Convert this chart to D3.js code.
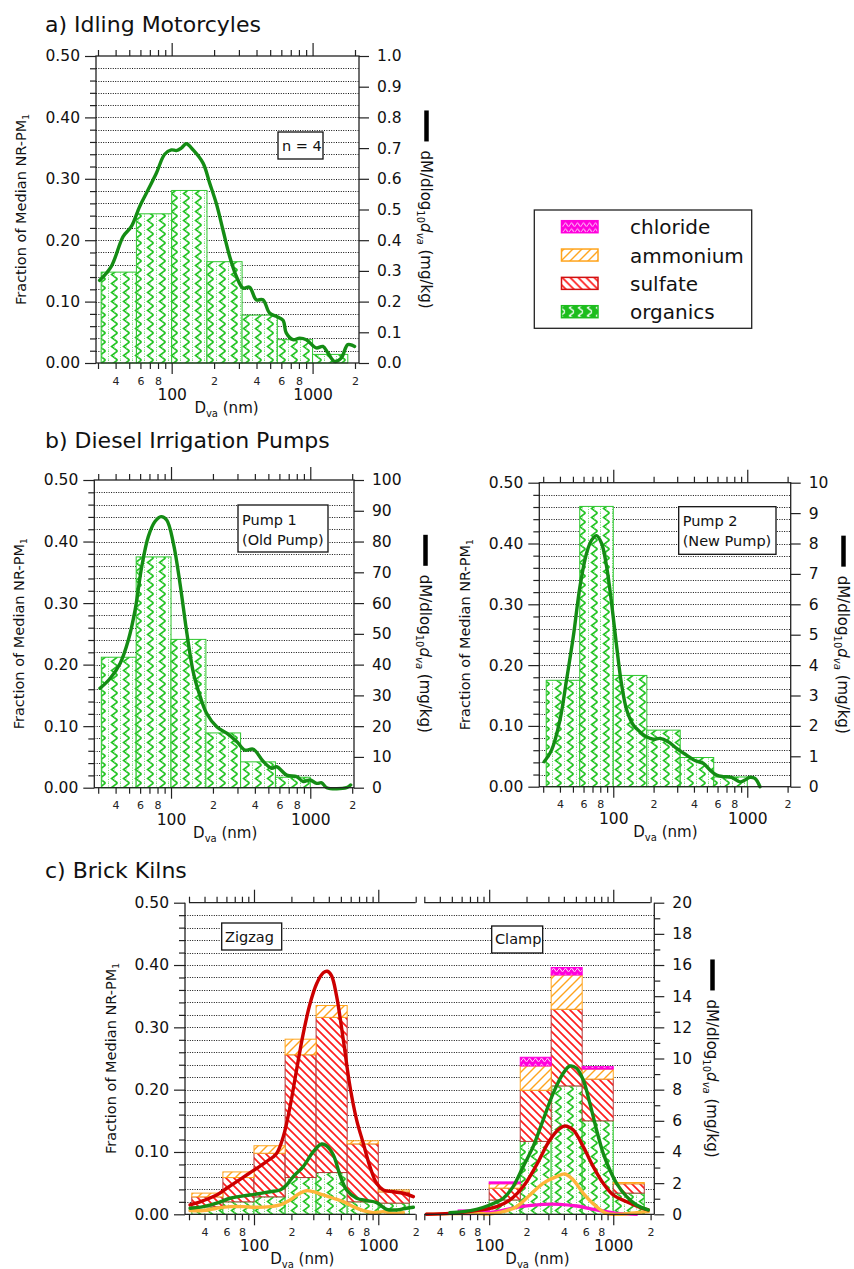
<!DOCTYPE html>
<html>
<head>
<meta charset="utf-8">
<script src="https://cdn.jsdelivr.net/npm/d3@7"></script>
<style>
body { margin: 0; background: #fff; }
svg { font-family: "DejaVu Sans", sans-serif; }
</style>
</head>
<body>
<svg id="chart" width="854" height="1269"></svg>
<script>
// ---- data ----
// size bin edges (nm), one decade split in four
const binEdges = [31.6, 56.2, 100, 178, 316, 562, 1000, 1778];
const xTickValues = [30, 40, 50, 60, 70, 80, 90, 100, 200, 300, 400, 500, 600, 700, 800, 900, 1000, 2000];
const xMinorLabelValues = [40, 60, 80, 200, 400, 600, 800, 2000];
const xMajorLabelValues = [100, 1000];
const species = ['organics', 'sulfate', 'ammonium', 'chloride'];
const legendLabels = ['chloride', 'ammonium', 'sulfate', 'organics'];

// a) idling motorcycles
const motoOrganics = [0.148, 0.243, 0.281, 0.165, 0.078, 0.038, 0.014];
const motoLine = [[30.8,0.269],[37.3,0.315],[45.2,0.412],[51.8,0.445],[59.3,0.51],[66.1,0.553],[77.8,0.618],[89.2,0.68],[99.5,0.694],[108,0.692],[117,0.70],[127,0.714],[142,0.694],[167,0.651],[186,0.586],[207,0.521],[231,0.434],[258,0.347],[288,0.282],[321,0.244],[357,0.247],[398,0.206],[444,0.206],[495,0.163],[552,0.152],[617,0.139],[650,0.098],[726,0.076],[809,0.081],[902,0.076],[1062,0.049],[1183,0.054],[1285,0.033],[1432,0.005],[1596,0.016],[1779,0.060],[1986,0.054]];

// b) pumps
const pump1Organics = [0.212, 0.375, 0.241, 0.089, 0.042, 0.017];
const pump1Line = [[30.9,32.3],[36.5,35.5],[43.1,40.4],[49.4,48.0],[55.2,57.7],[61.6,71.8],[68.7,81.6],[76.7,86.5],[84.8,88.1],[93.1,87.0],[104,79.4],[116,66.4],[130,50.2],[145,37.2],[162,29.6],[180,24.2],[213,19.8],[251,17.7],[296,15.0],[340,12.2],[390,12.5],[460,8.5],[528,6.3],[574,6.8],[677,4.1],[798,3.6],[891,2.0],[995,2.5],[1111,1.4],[1208,1.6],[1312,0],[1824,0],[1950,0.9]];
const pump2Organics = [0.175, 0.461, 0.183, 0.093, 0.048, 0.016];
const pump2Line = [[30.5,0.82],[34.7,1.21],[40.0,2.19],[44.8,3.51],[50.3,4.93],[56.4,6.58],[63.2,7.68],[68.9,8.11],[75.1,8.26],[81.9,8.0],[89.2,7.24],[97.2,6.03],[106,4.61],[115,3.40],[126,2.52],[141,2.03],[158,1.81],[177,1.64],[199,1.56],[223,1.59],[257,1.48],[297,1.26],[352,1.04],[407,0.86],[469,0.77],[526,0.55],[590,0.38],[662,0.33],[764,0.31],[881,0.16],[961,0.22],[1047,0.31],[1141,0.27],[1244,0]];

// c) brick kilns, stacked fractions per bin
const zigOrganics = [0.012, 0.020, 0.028, 0.059, 0.067, 0.020, 0.018];
const zigSulfate  = [0.016, 0.039, 0.070, 0.197, 0.249, 0.093, 0.018];
const zigAmmonium = [0.006, 0.009, 0.012, 0.025, 0.019, 0.005, 0.003];
const zigChloride = [0, 0, 0, 0, 0, 0, 0];
const clampOrganics = [0.001, 0.002, 0.023, 0.117, 0.206, 0.150, 0.034];
const clampSulfate  = [0, 0.001, 0.019, 0.082, 0.123, 0.067, 0.015];
const clampAmmonium = [0, 0.001, 0.007, 0.039, 0.055, 0.016, 0.002];
const clampChloride = [0, 0.003, 0.003, 0.014, 0.012, 0.004, 0];

const zigLineSulfate = [[30.6,0.6],[39.1,0.88],[50.1,1.24],[60.3,1.67],[72.6,2.1],[87.3,2.52],[105,2.95],[126,3.38],[152,3.91],[172,4.98],[195,6.91],[220,9.26],[249,11.6],[282,13.5],[319,14.8],[361,15.5],[389,15.6],[421,15.3],[462,14.0],[523,11.2],[592,8.2],[670,6.05],[757,4.56],[857,3.06],[970,1.99],[1097,1.56],[1321,1.45],[1589,1.35],[1914,1.13]];
const zigLineOrganics = [[30.6,0.39],[39.1,0.49],[50.1,0.71],[64.1,1.03],[82.1,1.18],[105,1.30],[135,1.45],[162,1.56],[183,1.88],[207,2.42],[249,3.06],[300,4.02],[350,4.51],[384,4.39],[435,3.81],[492,2.52],[556,1.56],[670,1.03],[806,0.88],[970,0.75],[1167,0.32],[1404,0.28],[1690,0.39],[1914,0.45]];
const zigLineAmmonium = [[30.6,0.24],[39.1,0.24],[50.1,0.39],[64.1,0.49],[82.1,0.49],[105,0.45],[135,0.49],[162,0.6],[195,0.92],[234,1.35],[265,1.52],[300,1.45],[361,1.24],[435,1.03],[523,0.81],[629,0.49],[757,0.24],[912,0.11],[1097,0.17],[1321,0.06],[1589,0.11]];
const clampLineOrganics = [[48.2,0.11],[61.7,0.17],[79.1,0.32],[101,0.6],[130,1.03],[156,1.78],[188,3.06],[226,4.34],[272,6.05],[328,7.76],[395,9.05],[447,9.52],[506,9.37],[573,8.62],[648,7.12],[734,5.41],[830,3.91],[940,2.84],[1064,1.99],[1282,1.13],[1543,0.6],[1914,0.28]];
const clampLineSulfate = [[31.2,0],[48.2,0.06],[79.1,0.24],[115,0.49],[147,0.92],[188,1.78],[241,3.17],[308,4.77],[371,5.52],[408,5.67],[476,5.41],[573,4.34],[690,3.06],[830,1.99],[1000,1.24],[1282,0.81],[1641,0.45],[1914,0.28]];
const clampLineAmmonium = [[31.2,0],[79.1,0.06],[101,0.02],[130,0.17],[166,0.49],[213,1.24],[272,1.99],[349,2.42],[408,2.59],[476,2.2],[573,1.35],[734,0.49],[883,0.06],[1132,0],[1543,0.11],[1914,0.17]];
const clampLineChloride = [[58.0,0.06],[79.1,0.06],[115,0.17],[177,0.49],[272,0.64],[371,0.64],[506,0.53],[734,0.28],[1064,0.06],[1543,0]];

// ---- styles ----
const COLORS = {
    organics: {bar: '#2ec62e', line: '#148c14'},
    sulfate: {bar: '#b53838', hatch: '#ff1e1e', line: '#cc0000'},
    ammonium: {bar: '#ffa41c', hatch: '#ffa41c', line: '#ffb43a'},
    chloride: {bar: '#ff00dd', line: '#ff10cc'}
};
const AXIS = '#222';

const svg = d3.select('#chart');
const defs = svg.append('defs');

// 填充图案
function pattern(id, w, h) {
    return defs.append('pattern').attr('id', id)
        .attr('patternUnits', 'userSpaceOnUse')
        .attr('width', w).attr('height', h);
}
let p = pattern('pOrg', 12, 9);
p.append('rect').attr('width', 12).attr('height', 9).attr('fill', '#fff');
p.append('path').attr('d', 'M9.5,0 L3.5,4.5 L9.5,9').attr('fill', 'none')
    .attr('stroke', '#22c422').attr('stroke-width', 1.6);
p.append('path').attr('d', 'M0.5,0 V9 M6.5,1 V8').attr('stroke', '#5fd45f')
    .attr('stroke-width', 0.9).attr('stroke-dasharray', '1,1.5');
p = pattern('pSul', 8, 8);
p.append('rect').attr('width', 8).attr('height', 8).attr('fill', '#fff');
p.append('path').attr('d', 'M0,0 L8,8 M-2,6 L2,10 M6,-2 L10,2')
    .attr('stroke', COLORS.sulfate.hatch).attr('stroke-width', 1.7);
p = pattern('pAmm', 9, 9);
p.append('rect').attr('width', 9).attr('height', 9).attr('fill', '#fff');
p.append('path').attr('d', 'M0,9 L9,0 M-2,2 L2,-2 M7,11 L11,7')
    .attr('stroke', COLORS.ammonium.hatch).attr('stroke-width', 1.4);
p = pattern('pChl', 6, 6);
p.append('rect').attr('width', 6).attr('height', 6).attr('fill', '#ff00dd');
p.append('path').attr('d', 'M0,4 Q1.5,0.5 3,4 T6,4').attr('fill', 'none')
    .attr('stroke', '#fff').attr('stroke-width', 0.9);
p = pattern('pOrgLeg', 9, 8);
p.append('rect').attr('width', 9).attr('height', 8).attr('fill', '#1dbd1d');
p.append('path').attr('d', 'M7,0.5 L2.5,4 L7,7.5').attr('fill', 'none')
    .attr('stroke', '#fff').attr('stroke-width', 1.4);

const FILL = {organics: 'url(#pOrg)', sulfate: 'url(#pSul)', ammonium: 'url(#pAmm)', chloride: 'url(#pChl)'};

// ---- helpers ----
function xScale(x0, x1) {
    return d3.scaleLog().domain([30, 2000]).range([x0, x1]);
}

function grid(g, y, xl, xr) {
    const vals = d3.range(1, 25).map(i => i * 0.02);
    g.append('g').selectAll('line').data(vals).join('line')
        .attr('x1', xl).attr('x2', xr)
        .attr('y1', d => Math.round(y(d)) + 0.5).attr('y2', d => Math.round(y(d)) + 0.5)
        .attr('stroke', '#111').attr('stroke-width', 1)
        .attr('stroke-dasharray', '1,1.4');
}

function singleBars(g, x, y, values) {
    const data = values.map((v, i) => ({lo: binEdges[i], hi: binEdges[i + 1], v}));
    g.append('g').selectAll('rect').data(data).join('rect')
        .attr('x', d => x(d.lo)).attr('width', d => x(d.hi) - x(d.lo))
        .attr('y', d => y(d.v)).attr('height', d => y(0) - y(d.v))
        .attr('fill', FILL.organics).attr('stroke', COLORS.organics.bar).attr('stroke-width', 1);
}

function stackedBars(g, x, y, org, sul, amm, chl) {
    const rows = org.map((v, i) => ({lo: binEdges[i], hi: binEdges[i + 1],
        organics: v, sulfate: sul[i], ammonium: amm[i], chloride: chl[i]}));
    const series = d3.stack().keys(species)(rows);
    series.forEach(s => {
        g.append('g').selectAll('rect').data(s.filter(d => d[1] - d[0] > 0)).join('rect')
            .attr('x', d => x(d.data.lo)).attr('width', d => x(d.data.hi) - x(d.data.lo))
            .attr('y', d => y(d[1])).attr('height', d => y(d[0]) - y(d[1]))
            .attr('fill', FILL[s.key]).attr('stroke', COLORS[s.key].bar).attr('stroke-width', 1);
    });
}

function trace(g, x, y2, pts, color) {
    const line = d3.line().x(d => x(d[0])).y(d => y2(d[1])).curve(d3.curveCatmullRom.alpha(0.5));
    g.append('path').datum(pts).attr('d', line)
        .attr('fill', 'none').attr('stroke', color).attr('stroke-width', 3.4)
        .attr('stroke-linejoin', 'round').attr('stroke-linecap', 'round');
}

function xAxes(g, x, top, bot, withTop) {
    const isMajor = d => d === 100 || d === 1000;
    const gb = g.append('g').attr('transform', `translate(0,${bot})`)
        .call(d3.axisBottom(x).tickValues(xTickValues).tickSize(6).tickPadding(8)
            .tickFormat(d => xMinorLabelValues.includes(d) ? String(d).charAt(0) : ''));
    gb.select('.domain').remove();
    gb.attr('font-family', null).attr('font-size', 11);
    gb.selectAll('.tick line').attr('stroke', AXIS).attr('stroke-width', 1.2);
    gb.selectAll('.tick').filter(isMajor).select('line').attr('y2', 11);
    gb.selectAll('text').attr('fill', '#222');
    const gm = g.append('g').attr('transform', `translate(0,${bot})`)
        .call(d3.axisBottom(x).tickValues(xMajorLabelValues).tickSize(0).tickPadding(26)
            .tickFormat(d3.format('d')));
    gm.select('.domain').remove();
    gm.attr('font-family', null).attr('font-size', 15.5);
    gm.selectAll('text').attr('fill', '#111');
    if (withTop) {
        const gt = g.append('g').attr('transform', `translate(0,${top})`)
            .call(d3.axisTop(x).tickValues(xTickValues).tickSize(6).tickFormat(''));
        gt.select('.domain').remove();
        gt.selectAll('.tick line').attr('stroke', AXIS).attr('stroke-width', 1.2);
        gt.selectAll('.tick').filter(isMajor).select('line').attr('y2', -13);
    }
    // D_va (nm)
    const r = x.range();
    const t = g.append('text').attr('x', (r[0] + r[1]) / 2).attr('y', bot + 50)
        .attr('text-anchor', 'middle').attr('font-size', 15).attr('fill', '#111');
    t.append('tspan').text('D');
    t.append('tspan').attr('font-size', 10).attr('dy', 4).text('va');
    t.append('tspan').attr('dy', -4).text(' (nm)');
}

function leftAxis(g, y, xl) {
    const vals = d3.range(0, 26).map(i => i * 0.02);
    const ga = g.append('g').attr('transform', `translate(${xl},0)`)
        .call(d3.axisLeft(y).tickValues(vals).tickSize(6).tickPadding(10)
            .tickFormat((d, i) => i % 5 === 0 ? d3.format('.2f')(d) : ''));
    ga.select('.domain').remove();
    ga.attr('font-family', null).attr('font-size', 15.5);
    ga.selectAll('.tick line').attr('stroke', AXIS).attr('stroke-width', 1.2);
    ga.selectAll('.tick').filter((d, i) => i % 5 === 0).select('line').attr('x2', -11);
    ga.selectAll('text').attr('fill', '#111');
}

function rightAxis(g, y2, xr, vals, fmt, isLabeled) {
    const ga = g.append('g').attr('transform', `translate(${xr},0)`)
        .call(d3.axisRight(y2).tickValues(vals).tickSize(10).tickPadding(8)
            .tickFormat(d => isLabeled(d) ? d3.format(fmt)(d) : ''));
    ga.select('.domain').remove();
    ga.attr('font-family', null).attr('font-size', 15.5);
    ga.selectAll('.tick line').attr('stroke', AXIS).attr('stroke-width', 1.2);
    ga.selectAll('.tick').filter(d => !isLabeled(d)).select('line').attr('x2', 6);
    ga.selectAll('text').attr('fill', '#111');
}

function leftLabel(g, bx, cy) {
    const t = g.append('text').attr('transform', `translate(${bx},${cy}) rotate(-90)`)
        .attr('text-anchor', 'middle').attr('font-size', 14.5).attr('fill', '#111');
    t.append('tspan').text('Fraction of Median NR-PM');
    t.append('tspan').attr('font-size', 9).attr('dy', 3).text('1');
}

function rightLabel(g, bx, cy) {
    const lg = g.append('g').attr('transform', `translate(${bx},${cy}) rotate(90)`);
    const t = lg.append('text').attr('font-size', 15).attr('fill', '#111');
    t.append('tspan').text('dM/dlog');
    t.append('tspan').attr('font-size', 10).attr('dy', 4).text('10');
    t.append('tspan').attr('font-style', 'italic').attr('dy', -4).text('d');
    t.append('tspan').attr('font-style', 'italic').attr('font-size', 10).attr('dy', 4).text('va');
    t.append('tspan').attr('dy', -4).text('  (mg/kg)');
    const len = t.node().getComputedTextLength();
    const total = 31 + 9 + len;
    lg.append('line').attr('x1', -total / 2).attr('x2', -total / 2 + 31)
        .attr('y1', -5.5).attr('y2', -5.5).attr('stroke', '#000').attr('stroke-width', 4.5);
    t.attr('x', -total / 2 + 40);
}

function noteBox(g, x0, y0, x1, y1, lines, tx, ty) {
    g.append('rect').attr('x', x0).attr('y', y0).attr('width', x1 - x0).attr('height', y1 - y0)
        .attr('fill', '#fff').attr('stroke', '#111').attr('stroke-width', 1.3);
    lines.forEach((s, i) => {
        g.append('text').attr('x', tx).attr('y', ty + i * 20).attr('font-size', 14.5)
            .attr('fill', '#111').text(s);
    });
}

function frame(g, l, r, t, b) {
    g.append('rect').attr('x', l).attr('y', t).attr('width', r - l).attr('height', b - t)
        .attr('fill', 'none').attr('stroke', AXIS).attr('stroke-width', 1.3);
}

function title(text, y) {
    svg.append('text').attr('x', 45).attr('y', y).attr('font-size', 22).attr('fill', '#111').text(text);
}

// ---- simple panel (a, b) ----
function simplePanel(cfg) {
    const g = svg.append('g');
    const x = xScale(cfg.x0, cfg.x1);
    const y = d3.scaleLinear().domain([0, 0.5]).range([cfg.bot, cfg.top]);
    const y2 = d3.scaleLinear().domain([0, cfg.rmax]).range([cfg.bot, cfg.top]);
    grid(g, y, cfg.fl, cfg.fr);
    singleBars(g, x, y, cfg.bars);
    trace(g, x, y2, cfg.line, COLORS.organics.line);
    noteBox(g, ...cfg.box);
    frame(g, cfg.fl, cfg.fr, cfg.top, cfg.bot);
    xAxes(g, x, cfg.top, cfg.bot, true);
    leftAxis(g, y, cfg.fl);
    rightAxis(g, y2, cfg.fr, d3.range(0, 11).map(i => i * cfg.rmax / 10), cfg.rfmt, () => true);
    leftLabel(g, cfg.lbx, (cfg.top + cfg.bot) / 2);
    rightLabel(g, cfg.rbx, (cfg.top + cfg.bot) / 2);
}

title('a) Idling Motorcyles', 32);
simplePanel({x0: 98, x1: 355, fl: 96, fr: 359, top: 56, bot: 363, rmax: 1.0, rfmt: '.1f',
    bars: motoOrganics, line: motoLine, lbx: 26, rbx: 421,
    box: [278, 132, 323, 159, ['n = 4'], 282, 151]});

title('b) Diesel Irrigation Pumps', 448);
simplePanel({x0: 98.2, x1: 352.2, fl: 94.3, fr: 354, top: 480, bot: 787.7, rmax: 100, rfmt: 'd',
    bars: pump1Organics, line: pump1Line, lbx: 24, rbx: 420,
    box: [238, 505, 328, 552, ['Pump 1', '(Old Pump)'], 242, 525]});
simplePanel({x0: 543.2, x1: 787.6, fl: 539.3, fr: 790.7, top: 482.7, bot: 786.7, rmax: 10, rfmt: 'd',
    bars: pump2Organics, line: pump2Line, lbx: 470, rbx: 838,
    box: [678.7, 506.7, 776, 554.3, ['Pump 2', '(New Pump)'], 682.7, 526]});

// ---- c) brick kilns ----
title('c) Brick Kilns', 878);
(function () {
    const g = svg.append('g');
    const top = 902.7, bot = 1214.3, fl = 185, fr = 654.3;
    const y = d3.scaleLinear().domain([0, 0.5]).range([bot, top]);
    const y2 = d3.scaleLinear().domain([0, 20]).range([bot, top]);
    const xL = xScale(189, 415.7);
    const xR = xScale(424.3, 650.6);
    grid(g, y, fl, fr);
    stackedBars(g, xL, y, zigOrganics, zigSulfate, zigAmmonium, zigChloride);
    stackedBars(g, xR, y, clampOrganics, clampSulfate, clampAmmonium, clampChloride);
    trace(g, xL, y2, zigLineAmmonium, COLORS.ammonium.line);
    trace(g, xL, y2, zigLineSulfate, COLORS.sulfate.line);
    trace(g, xL, y2, zigLineOrganics, COLORS.organics.line);
    trace(g, xR, y2, clampLineChloride, COLORS.chloride.line);
    trace(g, xR, y2, clampLineAmmonium, COLORS.ammonium.line);
    trace(g, xR, y2, clampLineSulfate, COLORS.sulfate.line);
    trace(g, xR, y2, clampLineOrganics, COLORS.organics.line);
    noteBox(g, 221.7, 923, 281.7, 950, ['Zigzag'], 225, 942);
    noteBox(g, 491.7, 926, 542.7, 953, ['Clamp'], 495, 943.5);
    // axis lines
    const ax = [[fl, top, fl, bot], [fr, top, fr, bot],
        [189, top, 415.7, top], [424.3, top, 650.6, top],
        [fl, bot, 415.7, bot], [424.3, bot, fr, bot]];
    g.append('g').selectAll('line').data(ax).join('line')
        .attr('x1', d => d[0]).attr('y1', d => d[1]).attr('x2', d => d[2]).attr('y2', d => d[3])
        .attr('stroke', AXIS).attr('stroke-width', 1.3);
    xAxes(g, xL, top, bot, true);
    xAxes(g, xR, top, bot, true);
    leftAxis(g, y, fl);
    rightAxis(g, y2, fr, d3.range(0, 21), 'd', d => d % 2 === 0);
    leftLabel(g, 116, (top + bot) / 2);
    rightLabel(g, 707, (top + bot) / 2);
})();

// ---- legend ----
(function () {
    const g = svg.append('g');
    g.append('rect').attr('x', 534.3).attr('y', 210).attr('width', 217.4).attr('height', 118.3)
        .attr('fill', '#fff').attr('stroke', '#222').attr('stroke-width', 1.3);
    const rowsY = d3.scalePoint().domain(legendLabels).range([226.7, 311.7]);
    const sw = {
        chloride: {fill: 'url(#pChl)', stroke: COLORS.chloride.bar},
        ammonium: {fill: 'url(#pAmm)', stroke: COLORS.ammonium.bar},
        sulfate: {fill: 'url(#pSul)', stroke: '#d01010'},
        organics: {fill: 'url(#pOrgLeg)', stroke: '#1dbd1d'}
    };
    const row = g.selectAll('g.row').data(legendLabels).join('g').attr('class', 'row')
        .attr('transform', d => `translate(0,${rowsY(d)})`);
    row.append('rect').attr('x', 561.5).attr('y', -6).attr('width', 36.5).attr('height', 12)
        .attr('fill', d => sw[d].fill).attr('stroke', d => sw[d].stroke).attr('stroke-width', 1.5);
    row.append('text').attr('x', 630).attr('y', 7.5).attr('font-size', 20).attr('fill', '#111')
        .text(d => d);
})();
</script>
</body>
</html>
